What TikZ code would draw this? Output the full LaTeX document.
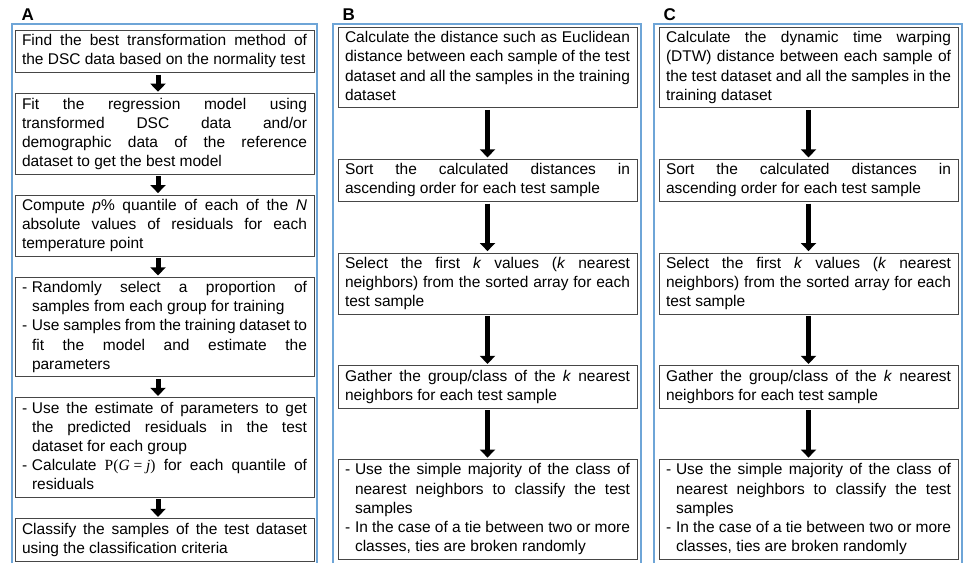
\documentclass[tikz,border=0pt]{standalone}
\usepackage{fontspec}
\setmainfont{Liberation Sans}
\newfontfamily\serifmath{Liberation Serif}
\usetikzlibrary{positioning,arrows.meta}

\definecolor{framecol}{RGB}{110,165,215}
\definecolor{boxcol}{RGB}{70,70,70}

\newcommand{\boxfont}{\fontsize{15.5}{19.1}\selectfont}
\newcommand{\labfont}{\fontsize{17}{20}\selectfont\bfseries}
\newcommand{\dashitem}[1]{\noindent\makebox[10pt][l]{-}\parbox[t]{275pt}{\strut#1\strut}\par}

\tikzset{
  panel/.style={draw=framecol, line width=1.3pt},
  stepbox/.style={draw=boxcol, line width=1pt, text width=285pt, inner xsep=7pt,
    inner ysep=2pt, align=justify, font=\boxfont,
    execute at begin node={\setlength{\parindent}{0pt}\lineskip=0pt\hyphenpenalty=10000\tolerance=10000\hbadness=10000}},
  flow/.style={line width=5pt, -{Triangle[width=15pt,length=8pt]}, shorten <=1.5pt, shorten >=1.5pt}
}

\begin{document}
\begin{tikzpicture}[x=1pt, y=1pt]

\useasboundingbox (0,0) rectangle (966,563);

\draw[panel] (12,0) -- (12,539) -- (317,539) -- (317,0);
\draw[panel] (333,0) -- (333,539) -- (641,539) -- (641,0);
\draw[panel] (654,0) -- (654,539) -- (962,539) -- (962,0);

\node[font=\labfont, anchor=base west] (labA) at (18,542) {A};
\node[font=\labfont, anchor=base west] (labB) at (339,542) {B};
\node[font=\labfont, anchor=base west] (labC) at (660,542) {C};

\node[stepbox, anchor=north] (a1) at (164.5,533) {\strut Find the best transformation method of\linebreak the DSC data based on the normality test\strut};
\node[stepbox, below=20pt of a1] (a2) {\strut Fit the regression model using\linebreak transformed DSC data and/or\linebreak demographic data of the reference\linebreak dataset to get the best model\strut};
\node[stepbox, below=20pt of a2] (a3) {\strut Compute \textit{p}\% quantile of each of the \textit{N}\linebreak absolute values of residuals for each\linebreak temperature point\strut};
\node[stepbox, below=20pt of a3] (a4) {\dashitem{Randomly select a proportion of\linebreak samples from each group for training}
  \dashitem{Use samples from the training dataset to\linebreak fit the model and estimate the\linebreak parameters}};
\node[stepbox, below=20pt of a4] (a5) {\dashitem{Use the estimate of parameters to get\linebreak the predicted residuals in the test\linebreak dataset for each group}
  \dashitem{Calculate {\serifmath P(\textit{G}\hspace{0.25em}=\hspace{0.25em}\textit{j})} for each quantile of\linebreak residuals}};
\node[stepbox, below=20.5pt of a5] (a6) {\strut Classify the samples of the test dataset\linebreak using the classification criteria\strut};

\draw[flow] ([xshift=-6.5pt]a1.south) -- ([xshift=-6.5pt]a2.north);
\draw[flow] ([xshift=-6.5pt]a2.south) -- ([xshift=-6.5pt]a3.north);
\draw[flow] ([xshift=-6.5pt]a3.south) -- ([xshift=-6.5pt]a4.north);
\draw[flow] ([xshift=-6.5pt]a4.south) -- ([xshift=-6.5pt]a5.north);
\draw[flow] ([xshift=-6.5pt]a5.south) -- ([xshift=-6.5pt]a6.north);

\node[stepbox, anchor=north] (b1) at (487.5,536) {\strut Calculate the distance such as Euclidean\linebreak distance between each sample of the test\linebreak dataset and all the samples in the training\linebreak dataset\strut};
\node[stepbox, below=50.5pt of b1] (b2) {\strut Sort the calculated distances in\linebreak ascending order for each test sample\strut};
\node[stepbox, below=50.5pt of b2] (b3) {\strut Select the first \textit{k} values (\textit{k} nearest\linebreak neighbors) from the sorted array for each\linebreak test sample\strut};
\node[stepbox, below=50.5pt of b3] (b4) {\strut Gather the group/class of the \textit{k} nearest\linebreak neighbors for each test sample\strut};
\node[stepbox, below=50.5pt of b4] (b5) {\dashitem{Use the simple majority of the class of\linebreak nearest neighbors to classify the test\linebreak samples}
  \dashitem{In the case of a tie between two or more\linebreak classes, ties are broken randomly}};

\draw[flow] (b1) -- (b2);
\draw[flow] (b2) -- (b3);
\draw[flow] (b3) -- (b4);
\draw[flow] (b4) -- (b5);

\node[stepbox, anchor=north] (c1) at (808.5,536) {\strut Calculate the dynamic time warping\linebreak (DTW) distance between each sample of\linebreak the test dataset and all the samples in the\linebreak training dataset\strut};
\node[stepbox, below=50.5pt of c1] (c2) {\strut Sort the calculated distances in\linebreak ascending order for each test sample\strut};
\node[stepbox, below=50.5pt of c2] (c3) {\strut Select the first \textit{k} values (\textit{k} nearest\linebreak neighbors) from the sorted array for each\linebreak test sample\strut};
\node[stepbox, below=50.5pt of c3] (c4) {\strut Gather the group/class of the \textit{k} nearest\linebreak neighbors for each test sample\strut};
\node[stepbox, below=50.5pt of c4] (c5) {\dashitem{Use the simple majority of the class of\linebreak nearest neighbors to classify the test\linebreak samples}
  \dashitem{In the case of a tie between two or more\linebreak classes, ties are broken randomly}};

\draw[flow] (c1) -- (c2);
\draw[flow] (c2) -- (c3);
\draw[flow] (c3) -- (c4);
\draw[flow] (c4) -- (c5);

\end{tikzpicture}
\end{document}
